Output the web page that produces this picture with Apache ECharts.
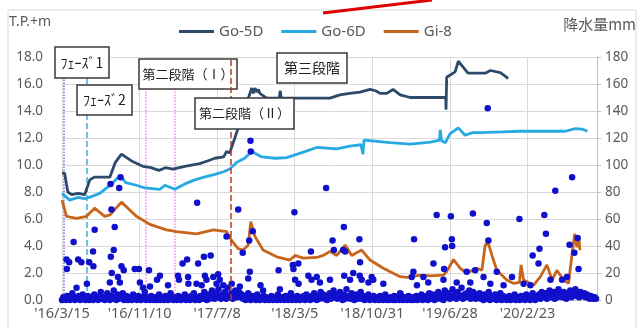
<!DOCTYPE html>
<html>
<head>
<meta charset="utf-8">
<script src="https://cdn.jsdelivr.net/npm/echarts@6/dist/echarts.min.js"></script>
<style>
  html, body { margin: 0; padding: 0; background: #fff; }
  #chart { width: 639px; height: 329px; }
</style>
</head>
<body>
<div id="chart"></div>
<script>
// x = days since 2016/3/15 (axis labels every 240 days)
const xMaxDay = 1655;
const xStepDays = 240;

// groundwater level T.P.+m : [day, level]
const go5d = [
  [0, 9.4], [8, 9.4], [18, 8.0], [30, 7.8], [50, 7.9], [70, 7.8], [86, 8.9], [100, 9.1],
  [148, 9.1], [165, 10.2], [184, 10.8], [215, 10.3], [250, 9.9], [275, 9.8], [300, 9.6],
  [320, 9.8], [343, 9.7], [380, 9.9], [426, 10.1], [450, 10.3], [473, 10.5], [500, 10.6],
  [509, 11.0], [519, 10.9], [587, 15.7], [592, 15.3], [597, 15.7], [603, 15.4], [608, 15.6],
  [612, 15.3], [618, 15.3], [630, 15.0], [637, 14.95], [672, 14.95], [675, 15.5], [678, 14.95],
  [829, 14.95], [860, 15.2], [890, 15.3], [922, 15.4], [953, 15.6], [970, 15.5], [985, 15.3],
  [1005, 15.3], [1024, 15.6], [1046, 15.2], [1077, 15.0], [1187, 15.0], [1188, 14.1],
  [1190, 16.5], [1216, 16.9], [1226, 17.7], [1256, 16.8], [1309, 16.8], [1325, 17.0],
  [1356, 16.85], [1370, 16.6], [1380, 16.4]
];
const go6d = [
  [0, 7.9], [24, 7.4], [50, 7.6], [70, 7.5], [95, 7.7], [117, 7.9], [154, 8.6], [170, 9.0],
  [184, 9.1], [197, 8.7], [230, 8.5], [256, 8.3], [303, 8.2], [318, 8.5], [349, 8.2],
  [380, 8.6], [411, 8.9], [440, 9.1], [473, 9.3], [500, 9.5], [519, 9.7], [541, 10.2],
  [565, 10.5], [587, 11.0], [618, 10.6], [660, 10.5], [695, 10.55], [740, 10.9], [788, 11.3],
  [850, 11.2], [890, 11.4], [925, 11.5], [931, 10.8], [934, 11.85], [1015, 11.65],
  [1077, 11.55], [1140, 11.7], [1168, 11.85], [1170, 12.6], [1174, 11.8], [1186, 11.65],
  [1200, 12.3], [1226, 12.75], [1247, 12.2], [1270, 12.4], [1294, 12.4], [1360, 12.45],
  [1417, 12.5], [1500, 12.5], [1557, 12.5], [1588, 12.7], [1610, 12.65], [1625, 12.5]
];
const gi8 = [
  [0, 7.4], [14, 6.2], [45, 6.05], [76, 6.2], [101, 6.8], [132, 6.2], [148, 6.3], [184, 7.25],
  [230, 6.2], [272, 5.6], [323, 5.2], [354, 5.06], [416, 4.9], [468, 5.2], [509, 5.06],
  [525, 4.4], [545, 3.8], [561, 3.7], [576, 4.07], [584, 5.8], [597, 4.7], [622, 3.7],
  [664, 3.2], [705, 2.96], [721, 3.3], [746, 3.1], [788, 3.15], [808, 3.3], [829, 3.6],
  [850, 3.3], [876, 4.07], [896, 3.3], [927, 3.7], [953, 2.96], [994, 2.35], [1046, 1.73],
  [1067, 1.68], [1108, 1.85], [1139, 1.78], [1180, 1.85], [1190, 2.1], [1211, 3.0],
  [1232, 2.35], [1252, 2.0], [1283, 2.35], [1299, 2.2], [1309, 4.07], [1319, 4.2],
  [1330, 3.3], [1345, 2.2], [1376, 1.48], [1397, 1.23], [1415, 1.3], [1420, 2.6],
  [1428, 1.48], [1459, 1.1], [1480, 1.73], [1500, 2.6], [1516, 1.48], [1531, 2.2],
  [1552, 1.48], [1567, 1.23], [1578, 3.46], [1586, 4.9], [1593, 3.9], [1599, 4.7], [1602, 3.7]
];

// daily rain mm, small values, one every 4 days from day 0
const rainBase = [
  0,2,1,0,3,1,0,2,5,1,0,2,1,3,0,1,4,2,0,1,3,0,2,
  1,0,4,2,1,0,3,6,1,2,0,1,5,2,0,3,1,7,2,0,4,1,3,
  2,5,0,1,3,0,2,1,0,4,1,2,0,3,1,0,2,1,6,0,2,1,0,
  3,1,0,2,0,1,4,0,2,1,0,3,1,0,2,5,1,0,2,1,0,3,1,
  0,2,1,4,0,1,2,0,3,1,5,0,2,1,0,3,2,1,6,2,0,4,1,
  3,7,2,1,5,2,8,3,1,4,2,6,1,9,3,2,5,1,4,7,2,3,6,
  2,4,1,3,0,2,5,1,0,3,1,2,0,4,1,0,2,1,3,0,2,1,0,
  1,3,0,2,1,0,4,1,0,2,1,0,3,1,0,2,5,0,1,2,0,3,1,
  0,2,1,3,0,4,1,2,0,3,1,5,2,0,3,1,6,2,4,1,3,0,2,
  5,1,3,7,2,4,1,3,6,2,0,4,1,8,2,3,1,5,2,0,3,4,1,
  2,6,1,3,0,2,1,4,0,2,1,3,0,1,2,0,3,1,0,2,4,0,1,
  0,2,1,0,3,0,1,2,0,4,1,0,2,1,0,3,1,0,2,0,1,3,0,
  2,1,4,0,2,1,3,0,5,1,2,4,0,3,1,6,2,1,4,0,7,2,3,
  5,1,3,8,2,4,1,6,3,2,9,1,4,2,5,3,7,1,2,6,3,1,4,
  2,5,1,3,0,4,2,1,6,0,2,3,1,4,0,2,1,5,0,3,1,2,0,
  1,3,0,2,1,4,0,2,1,0,3,1,2,0,4,1,3,0,2,5,1,0,3,
  2,4,1,6,3,2,5,1,4,7,2,3,6,1,4,2,8,3,5,2,6,4,1,
  5,3,7,2,6,4,8,3,5,2,6,4,3,5,2,4,3,1,3,2,1,2,1
];
const rainBaseStep = 4;
// larger rain days : [day, mm]
const rainPeaks = [
  [14, 30], [15, 23], [22, 28], [36, 43], [45, 9], [50, 30], [60, 28], [77, 12], [84, 28],
  [96, 36], [97, 25], [101, 52], [148, 13], [150, 86], [151, 32], [153, 67], [154, 20],
  [160, 37], [163, 54], [173, 17], [177, 83], [179, 13], [181, 91], [184, 25], [191, 22],
  [225, 23], [238, 23], [241, 13], [251, 9], [269, 22], [272, 10], [294, 15], [303, 18],
  [328, 11], [359, 18], [362, 15], [373, 27], [387, 30], [390, 17], [391, 12], [416, 12],
  [418, 72], [421, 27], [432, 11], [439, 32], [442, 18], [447, 15], [460, 33], [468, 17],
  [478, 12], [483, 19], [488, 15], [499, 11], [509, 47], [525, 12], [545, 67], [550, 10],
  [559, 35], [576, 16], [579, 44], [581, 21], [583, 118], [584, 110], [590, 51], [614, 11],
  [622, 7], [670, 22], [674, 8], [714, 26], [716, 23], [719, 65], [721, 15], [731, 27],
  [732, 12], [762, 18], [770, 36], [772, 15], [788, 17], [798, 13], [817, 83], [829, 15],
  [837, 44], [841, 37], [870, 37], [872, 54], [873, 18], [876, 36], [891, 15], [901, 20],
  [920, 45], [921, 18], [922, 28], [927, 15], [948, 13], [958, 17], [963, 15], [994, 12],
  [1046, 5], [1082, 17], [1087, 21], [1089, 45], [1098, 11], [1118, 17], [1133, 13],
  [1149, 27], [1159, 63], [1180, 15], [1182, 23], [1185, 39], [1203, 62], [1206, 45],
  [1207, 40], [1221, 13], [1252, 21], [1263, 13], [1271, 64], [1278, 22], [1304, 17],
  [1314, 57], [1317, 142], [1319, 44], [1325, 12], [1345, 21], [1366, 11], [1392, 17],
  [1415, 60], [1428, 12], [1449, 11], [1456, 33], [1474, 27], [1477, 38], [1492, 63],
  [1497, 49], [1511, 15], [1526, 81], [1547, 15], [1562, 17], [1570, 41], [1578, 91],
  [1585, 35], [1595, 46], [1598, 23]
];

// construction stages (vertical guide lines), day positions
const stageLines = [
  { day: 5, color: '#7a6fe0', type: 'dotted' },
  { day: 76, color: '#35b4d6', type: 'dashed' },
  { day: 259, color: '#ee8aee', type: 'dotted' },
  { day: 350, color: '#ee8aee', type: 'dotted' }
];
const stage2Line = { day: 522, color: '#c0392b', type: 'dashed' };

const rainData = rainBase.map((v, i) => [i * rainBaseStep, v]).concat(rainPeaks);

function dayLabel(d) {
  if (d % xStepDays !== 0) return '';
  const t = new Date(2016, 2, 15 + d);
  return "'" + String(t.getFullYear()).slice(2) + '/' + (t.getMonth() + 1) + '/' + t.getDate();
}

function vLine(s) {
  return { xAxis: s.day, lineStyle: { color: s.color, type: s.type, width: 1.5 } };
}

// annotation boxes
function noteBox(x, y, w, h, text, size, z) {
  return {
    type: 'group', x: x, y: y,
    children: [
      { type: 'rect', z: z, shape: { x: 0, y: 0, width: w, height: h },
        style: { fill: '#fff', stroke: '#3a3a3a', lineWidth: 1.5 } },
      { type: 'text', z: z + 1, x: w / 2, y: h / 2,
        style: { text: text, fill: '#222', font: size + 'px "Noto Sans CJK JP"',
                 align: 'center', verticalAlign: 'middle' } }
    ]
  };
}

const chart = echarts.init(document.getElementById('chart'));
const grey = '#595959';

const option = {
  animation: false,
  textStyle: { fontFamily: '"Noto Sans", "Noto Sans CJK JP", sans-serif' },
  grid: { left: 62, right: 42, top: 57, bottom: 29, containLabel: false, outerBoundsMode: 'none' },
  legend: {
    data: ['Go-5D', 'Go-6D', 'Gi-8'],
    left: 174, top: 19,
    icon: 'rect', itemWidth: 35, itemHeight: 3, itemGap: 18,
    textStyle: { fontSize: 15, color: grey }
  },
  xAxis: {
    type: 'value', min: 0, max: xMaxDay, interval: xStepDays,
    axisLine: { lineStyle: { color: '#bfbfbf' } },
    axisTick: { show: false },
    splitLine: { lineStyle: { color: '#d9d9d9' } },
    axisLabel: { formatter: dayLabel, color: grey, fontSize: 14.5, margin: 7, showMaxLabel: false }
  },
  yAxis: [
    {
      type: 'value', min: 0, max: 18, interval: 2,
      axisLine: { show: false }, axisTick: { show: false },
      splitLine: { lineStyle: { color: '#d9d9d9' } },
      axisLabel: { formatter: v => v.toFixed(1), color: grey, fontSize: 13.5, margin: 19 }
    },
    {
      type: 'value', min: 0, max: 180, interval: 20, position: 'right',
      axisLine: { show: true, lineStyle: { color: '#bfbfbf' } },
      axisTick: { show: true, length: 4, lineStyle: { color: '#bfbfbf' } },
      splitLine: { show: false },
      axisLabel: { color: grey, fontSize: 13.5, margin: 8 }
    }
  ],
  series: [
    {
      name: 'Go-5D', type: 'line', data: go5d, showSymbol: false, z: 3,
      lineStyle: { width: 2.8, color: '#2e4a6b' }, itemStyle: { color: '#2e4a6b' },
      markLine: { silent: true, symbol: 'none', label: { show: false }, z: 2, data: stageLines.map(vLine) }
    },
    {
      name: 'Go-6D', type: 'line', data: go6d, showSymbol: false, z: 3,
      lineStyle: { width: 2.8, color: '#27aae1' }, itemStyle: { color: '#27aae1' },
      markLine: { silent: true, symbol: 'none', label: { show: false }, z: 6, data: [vLine(stage2Line)] }
    },
    {
      name: 'Gi-8', type: 'line', data: gi8, showSymbol: false, z: 3,
      lineStyle: { width: 2.8, color: '#c8651b' }, itemStyle: { color: '#c8651b' }
    },
    {
      name: '降水量', type: 'scatter', yAxisIndex: 1, data: rainData, z: 4,
      symbolSize: 6.5, itemStyle: { color: '#1010cc', opacity: 1 }
    }
  ],
  graphic: [
    { type: 'rect', shape: { x: 8, y: 10, width: 628, height: 330 }, z: -10,
      style: { fill: 'none', stroke: '#d9d9d9', lineWidth: 1 } },
    { type: 'line', shape: { x1: 323, y1: 13, x2: 432, y2: 0 }, z: 50,
      style: { stroke: '#e00000', lineWidth: 3 } },
    { type: 'text', x: 9, y: 22, z: 50,
      style: { text: 'T.P.+m', fill: grey, font: '14px "Noto Sans"', verticalAlign: 'middle' } },
    { type: 'text', x: 636, y: 24, z: 50,
      style: { text: '降水量mm', fill: grey, font: '15px "Noto Sans CJK JP"', align: 'right', verticalAlign: 'middle' } },
    noteBox(55, 47, 54, 31, 'ﾌｪｰｽﾞ1', 14, 20),
    noteBox(77, 85, 55, 30, 'ﾌｪｰｽﾞ2', 14, 20),
    noteBox(139, 59, 98, 30, '第二段階（Ⅰ）', 13, 4),
    noteBox(277, 53, 70, 30, '第三段階', 14, 20),
    noteBox(195, 98, 99, 31, '第二段階（Ⅱ）', 13, 20)
  ]
};

chart.setOption(option);
</script>
</body>
</html>
